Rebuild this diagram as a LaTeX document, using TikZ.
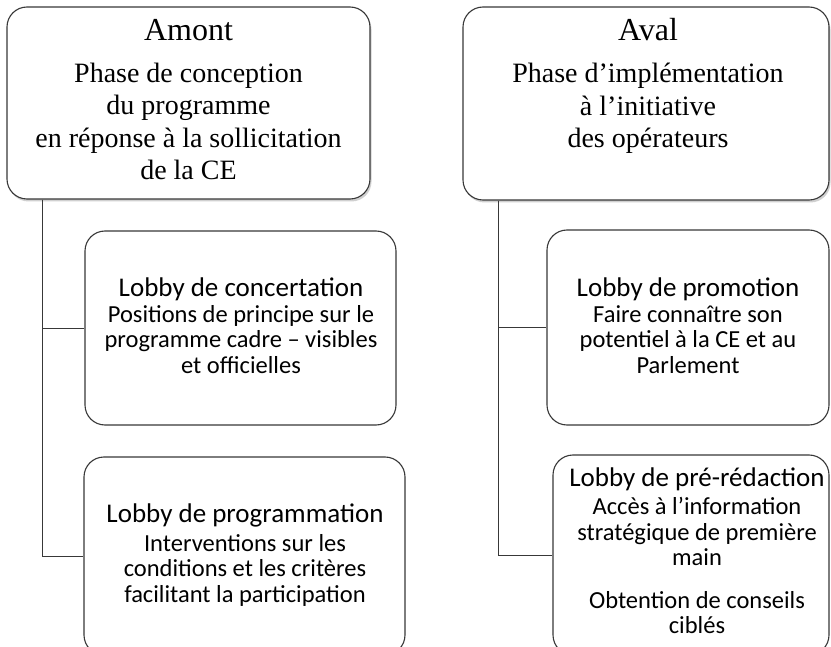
\documentclass[tikz,border=0pt]{standalone}
\usepackage{fontspec}
\setmainfont{Liberation Serif}
\newfontfamily\calib{Carlito}
\usetikzlibrary{shadows}
\begin{document}
\begin{tikzpicture}[x=1pt,y=-1pt,
  box/.style={draw=black!78, line width=1.1pt, rounded corners=20pt, fill=white, inner sep=0pt},
  topbox/.style={box, drop shadow={shadow xshift=1.5pt, shadow yshift=-2.5pt, opacity=0.3, fill=black!60}},
  childbox/.style={box},
  serift/.style={align=center, inner sep=0pt, anchor=north, font=\fontsize{28}{32.5}\selectfont},
  sanst/.style={align=center, inner sep=0pt, anchor=north, font=\calib\fontsize{24.5}{25.5}\selectfont},
  conn/.style={draw=black!78, line width=0.9pt}]
\useasboundingbox (0,0) rectangle (831,647);
\clip (0,0) rectangle (831,647);
\fill[white] (0,0) rectangle (831,647);

% boxes
\node[topbox, minimum width=363pt, minimum height=192pt] (amont) at (188.5,103) {};
\node[topbox, minimum width=366pt, minimum height=193pt] (aval) at (646,103.5) {};
\node[childbox, minimum width=311pt, minimum height=194pt] (lc1) at (240.5,328) {};
\node[childbox, minimum width=321pt, minimum height=198pt] (lc2) at (244.5,556) {};
\node[childbox, minimum width=282pt, minimum height=195pt] (rc1) at (688,327.5) {};
\node[childbox, minimum width=276pt, minimum height=200pt] (rc2) at (691,555) {};

% connectors
\draw[conn] ([xshift=36pt]amont.south west) |- (lc1.west);
\draw[conn] ([xshift=36pt]amont.south west) |- (lc2.west);
\draw[conn] ([xshift=36pt]aval.south west) |- (rc1.west);
\draw[conn] ([xshift=36pt]aval.south west) |- (rc2.west);

% texts
\node[serift] (amontT) at (188.5,18.8) {{\fontsize{32}{32}\selectfont Amont}\\[9.5pt]Phase de conception\\du programme\\en réponse à la sollicitation\\de la CE};
\node[serift] (avalT) at (648,18.1) {{\fontsize{32}{32}\selectfont Aval}\\[9.5pt]Phase d’implémentation\\à l’initiative\\des opérateurs};

\node[sanst] (lc1T) at (241,278) {{\fontsize{27}{25.5}\selectfont Lobby de concertation}\\Positions de principe sur le\\programme cadre – visibles\\et officielles};
\node[sanst] (lc2T) at (245,504) {{\fontsize{27}{25.5}\selectfont Lobby de programmation}\\[3pt]Interventions sur les\\conditions et les critères\\facilitant la participation};
\node[sanst] (rc1T) at (688,278) {{\fontsize{27}{25.5}\selectfont Lobby de promotion}\\Faire connaître son\\potentiel à la CE et au\\Parlement};
\node[sanst] (rc2T) at (697,468) {{\fontsize{27}{25.5}\selectfont Lobby de pré-rédaction}\\[2.5pt]Accès à l’information\\stratégique de première\\main\\[17pt]Obtention de conseils\\ciblés};
\end{tikzpicture}
\end{document}
